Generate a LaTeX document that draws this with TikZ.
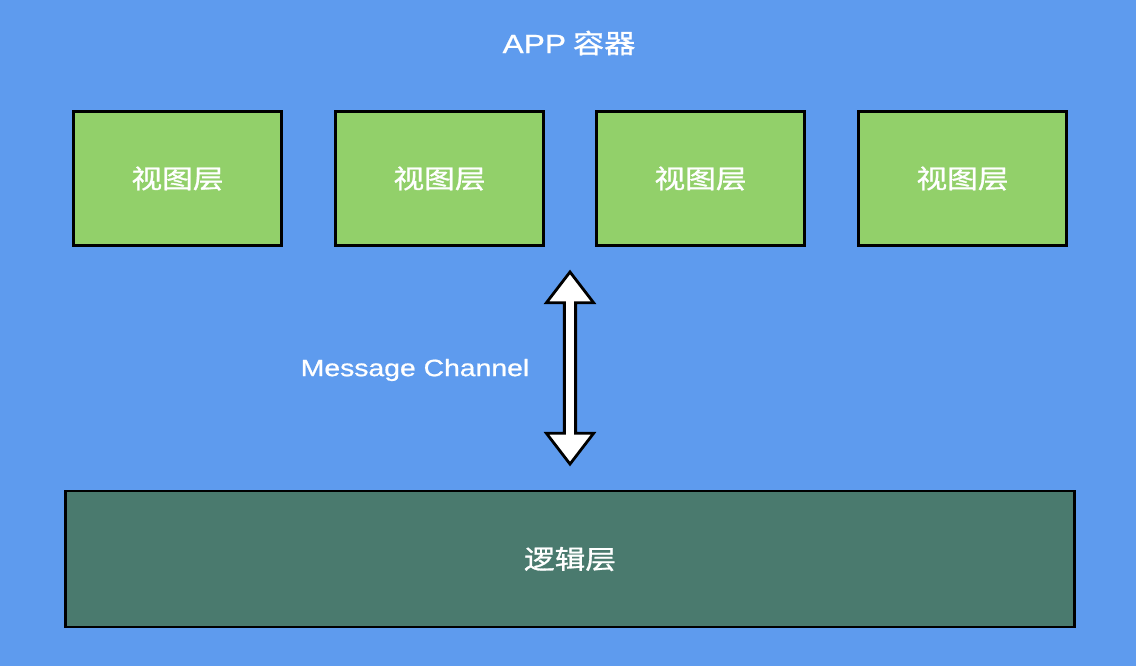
\documentclass[tikz,border=0pt]{standalone}
\usepackage{fontspec}
\setmainfont[FakeStretch=1.18, FakeBold=1]{Noto Sans CJK SC}
\newfontfamily\latinfont[FakeStretch=1.2, FakeBold=0.8]{Liberation Sans}
\usetikzlibrary{shapes.arrows,calc}
\definecolor{bgblue}{RGB}{94,155,238}
\definecolor{viewgreen}{RGB}{146,208,106}
\definecolor{logicgreen}{RGB}{74,122,110}
\tikzset{
  viewbox/.style = {draw = black, line width = 2pt, fill = viewgreen, minimum width = 5.2cm, minimum height = 3.35cm, text = white, font = \fontsize{18.5}{22}\selectfont},
  logicbox/.style = {draw = black, line width = 2pt, fill = logicgreen, minimum width = 25.2cm, minimum height = 3.4cm, text = white, font = \fontsize{18.5}{22}\selectfont},
  label/.style = {text = white}
}
\begin{document}
\begin{tikzpicture}[x = 0.025cm, y = -0.025cm]
\fill[bgblue] (0,0) rectangle (1136,666);
\useasboundingbox (0,0) rectangle (1136,666);
\node[label, font = \fontsize{18.8}{22}\selectfont] (app) at (569,43) {{\latinfont APP} 容器};
\foreach \n/\x in {1/177.5,2/439.5,3/700.5,4/962.5}
  \node[viewbox] (view\n) at (\x,178.5) {视图层};
\node[logicbox] (logic) at (570,559) {逻辑层};
\coordinate (chtop) at (570,270);
\coordinate (chbot) at (570,466);
% message channel arrow
\node[double arrow, draw = black, line width = 2pt, fill = white, rotate = 90, inner sep = 3pt, minimum height = 4.8cm, double arrow head extend = 0.45cm, double arrow tip angle = 75] (chan) at ($(chtop)!0.5!(chbot)$) {};
\node[label, font = \latinfont\fontsize{16.8}{20}\selectfont] (chlabel) at (415,370) {Message Channel};
\end{tikzpicture}
\end{document}
